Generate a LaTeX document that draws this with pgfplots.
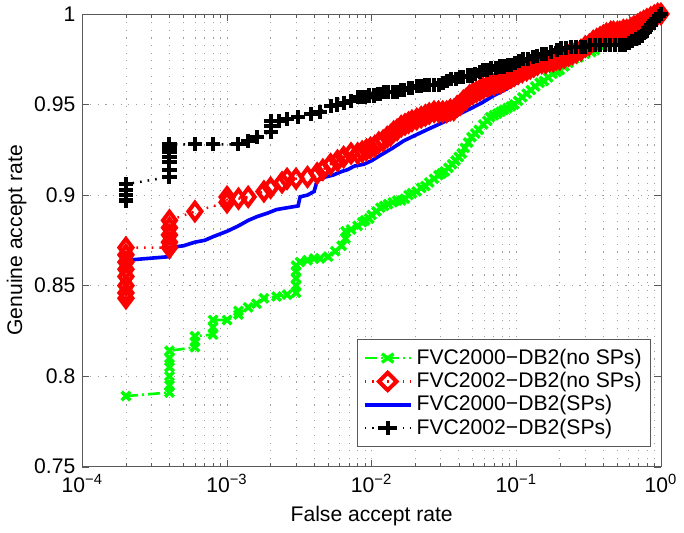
\documentclass[border=0pt]{standalone}
\usepackage{fontspec}
\setmainfont{Liberation Sans}
\usepackage{pgfplots}
\pgfplotsset{compat=1.18}

\begin{document}
\begin{tikzpicture}[font=\fontsize{10.5}{12.6}\selectfont]
\begin{axis}[
  xmode=log,
  width=287.5pt, height=225pt,
  scale only axis,
  xmin=1e-4, xmax=1,
  ymin=0.75, ymax=1,
  xtick={1e-4,1e-3,1e-2,1e-1,1},
  xticklabels={10\textsuperscript{−4},10\textsuperscript{−3},10\textsuperscript{−2},10\textsuperscript{−1},10\textsuperscript{0}},
  ytick={0.75,0.8,0.85,0.9,0.95,1},
  yticklabels={0.75,0.8,0.85,0.9,0.95,1},
  xlabel={False accept rate},
  ylabel={Genuine accept rate},
  ylabel style={yshift=-3pt},
  grid=major,
  xminorgrids=true,
  grid style={gray!75, dash pattern=on 0.6pt off 3.2pt},
  minor grid style={gray!75, dash pattern=on 0.6pt off 3.2pt},
  axis line style={black!65},
  tick style={black!65},
  tick align=inside,
  major tick length=3.5pt,
  minor tick length=2pt,
  clip=false,
  legend cell align=left,
  legend style={at={(0.983,0.044)}, anchor=south east, draw=black!65,
    font=\fontsize{10.5}{12.6}\selectfont, row sep=-1.5pt, inner sep=2.5pt},
  legend image post style={xscale=1.35},
]
% FVC2000-DB2 (no SPs)
\addplot[green, line width=1.3pt, dash pattern=on 6pt off 2pt on 1pt off 2pt,
  mark=x, mark size=3pt, mark options={solid, line width=1.7pt}] coordinates {
(2e-4,0.789) (4e-4,0.791) (4e-4,0.795) (4e-4,0.800) (4e-4,0.805) (4e-4,0.810) (4e-4,0.814)
(6e-4,0.816) (6e-4,0.819) (6e-4,0.822) (8e-4,0.823) (8e-4,0.827) (8e-4,0.831)
(1e-3,0.831) (1.2e-3,0.834) (1.2e-3,0.836) (1.4e-3,0.838) (1.6e-3,0.840) (1.8e-3,0.843)
(2.2e-3,0.844) (2.6e-3,0.845) (3.0e-3,0.846) (3.0e-3,0.850) (3.0e-3,0.854) (3.0e-3,0.858)
(3.0e-3,0.861) (3.2e-3,0.863) (3.6e-3,0.864) (4.0e-3,0.865) (4.4e-3,0.865) (5.0e-3,0.866)
(5.6e-3,0.869) (6.2e-3,0.872) (6.6e-3,0.876) (6.6e-3,0.880) (7.2e-3,0.881) (8.0e-3,0.883)
(8.6e-3,0.885) (9.0e-3,0.886) (9.6e-3,0.887) (1.0e-2,0.889) (1.08e-2,0.891) (1.15e-2,0.893)
(1.22e-2,0.894) (1.3e-2,0.895) (1.4e-2,0.896) (1.5e-2,0.897) (1.6e-2,0.897) (1.7e-2,0.898)
(1.8e-2,0.900) (1.9e-2,0.901) (2.05e-2,0.902) (2.2e-2,0.904) (2.35e-2,0.905) (2.5e-2,0.907)
(2.7e-2,0.909) (2.9e-2,0.911) (3.05e-2,0.912) (3.2e-2,0.913) (3.4e-2,0.915) (3.6e-2,0.917)
(3.8e-2,0.919) (4.0e-2,0.921) (4.2e-2,0.923) (4.4e-2,0.926) (4.65e-2,0.929) (4.9e-2,0.932)
(5.2e-2,0.934) (5.5e-2,0.936) (5.9e-2,0.939) (6.3e-2,0.941) (6.6e-2,0.943) (7.0e-2,0.944)
(7.4e-2,0.945) (7.8e-2,0.946) (8.2e-2,0.947) (8.7e-2,0.948) (9.2e-2,0.949) (9.7e-2,0.950)
(0.103,0.952) (0.11,0.954) (0.118,0.956) (0.126,0.958) (0.135,0.960) (0.145,0.962)
(0.155,0.963) (0.166,0.965) (0.178,0.967) (0.19,0.968) (0.2,0.969) (0.215,0.971)
(0.23,0.973) (0.25,0.975) (0.27,0.976) (0.3,0.978) (0.33,0.979) (0.35,0.980)
(0.4,0.982) (0.45,0.984) (0.5,0.985) (0.55,0.987) (0.6,0.988) (0.65,0.990) (0.7,0.991)
(0.75,0.993) (0.8,0.994) (0.85,0.996) (0.9,0.997) (0.95,0.999) (1.0,1.0)
};
\addlegendentry{FVC2000−DB2(no SPs)}
% FVC2002-DB2 (no SPs)
\addplot[red, line width=1.2pt, dash pattern=on 0.8pt off 3pt,
  mark=diamond, mark size=4.3pt, mark options={solid, line width=2pt, fill=white}] coordinates {
(2e-4,0.843) (2e-4,0.846) (2e-4,0.850) (2e-4,0.855) (2e-4,0.859) (2e-4,0.863) (2e-4,0.867) (2e-4,0.871)
(4e-4,0.871) (4e-4,0.874) (4e-4,0.878) (4e-4,0.882) (4e-4,0.886)
(6e-4,0.891) (1e-3,0.896) (1e-3,0.899) (1.2e-3,0.898) (1.4e-3,0.899) (1.8e-3,0.902)
(2.0e-3,0.904) (2.4e-3,0.907) (2.6e-3,0.909) (3.0e-3,0.909) (3.6e-3,0.910) (4.2e-3,0.912)
(4.6e-3,0.914) (5.2e-3,0.917) (5.8e-3,0.919) (6.4e-3,0.921) (7.2e-3,0.923) (8.0e-3,0.923)
(8.6e-3,0.924) (9.2e-3,0.925) (9.8e-3,0.926) (1.05e-2,0.927) (1.12e-2,0.929) (1.2e-2,0.930)
(1.28e-2,0.932) (1.35e-2,0.933) (1.42e-2,0.935) (1.5e-2,0.936) (1.6e-2,0.938) (1.7e-2,0.939)
(1.8e-2,0.940) (1.9e-2,0.941) (2.05e-2,0.942) (2.2e-2,0.943) (2.35e-2,0.944) (2.5e-2,0.945)
(2.7e-2,0.946) (2.9e-2,0.946) (3.1e-2,0.946) (3.3e-2,0.946) (3.5e-2,0.947) (3.7e-2,0.947)
(3.9e-2,0.949) (4.1e-2,0.950) (4.3e-2,0.952) (4.5e-2,0.953) (4.75e-2,0.955) (5.0e-2,0.956)
(5.3e-2,0.957) (5.6e-2,0.958) (5.9e-2,0.959) (6.3e-2,0.960) (6.6e-2,0.961) (7.0e-2,0.961)
(7.4e-2,0.962) (7.8e-2,0.962) (8.2e-2,0.963) (8.7e-2,0.964) (0.092,0.965) (0.097,0.966)
(0.103,0.967) (0.11,0.968) (0.118,0.969) (0.125,0.970) (0.132,0.971) (0.14,0.972)
(0.15,0.973) (0.16,0.973) (0.17,0.974) (0.18,0.974) (0.19,0.975) (0.2,0.975) (0.215,0.976)
(0.23,0.977) (0.245,0.978) (0.26,0.979) (0.28,0.980) (0.3,0.982) (0.32,0.983) (0.34,0.985)
(0.36,0.986) (0.38,0.987) (0.4,0.988) (0.42,0.989) (0.45,0.990) (0.47,0.990) (0.5,0.990)
(0.52,0.990) (0.55,0.991) (0.58,0.991) (0.62,0.992) (0.65,0.993) (0.69,0.994) (0.72,0.995)
(0.76,0.996) (0.8,0.997) (0.85,0.998) (0.9,0.999) (0.95,1.0) (1.0,1.0)
};
\addlegendentry{FVC2002−DB2(no SPs)}
% FVC2000-DB2 (SPs)
\addplot[blue, line width=1.8pt, mark=none] coordinates {
(2e-4,0.862) (2e-4,0.864) (4e-4,0.866) (4e-4,0.869) (4e-4,0.871) (5e-4,0.872) (6e-4,0.874)
(7e-4,0.875) (8e-4,0.877) (1e-3,0.880) (1.2e-3,0.883) (1.4e-3,0.886) (1.6e-3,0.888)
(1.9e-3,0.890) (2.2e-3,0.892) (2.6e-3,0.893) (3.1e-3,0.894) (3.2e-3,0.899) (3.6e-3,0.900)
(4.0e-3,0.902) (4.2e-3,0.908) (4.8e-3,0.910) (5.4e-3,0.911) (6.2e-3,0.913) (6.8e-3,0.914)
(7.6e-3,0.916) (8.8e-3,0.917) (1.0e-2,0.919) (1.15e-2,0.922) (1.4e-2,0.926) (1.67e-2,0.930)
(2.0e-2,0.933) (2.4e-2,0.936) (2.9e-2,0.939) (3.5e-2,0.942) (4.1e-2,0.945) (4.9e-2,0.948)
(5.8e-2,0.951) (7.0e-2,0.955) (8.3e-2,0.958) (0.1,0.962) (0.12,0.966) (0.14,0.969)
(0.17,0.973) (0.2,0.977) (0.24,0.980) (0.3,0.983) (0.35,0.985) (0.41,0.987) (0.5,0.989)
(0.6,0.991) (0.7,0.994) (0.85,0.997) (1.0,1.0)
};
\addlegendentry{FVC2000−DB2(SPs)}
% FVC2002-DB2 (SPs)
\addplot[black, line width=1.2pt, dash pattern=on 0.8pt off 3pt,
  mark=+, mark size=3.5pt, mark options={solid, line width=2pt}] coordinates {
(2e-4,0.897) (2e-4,0.900) (2e-4,0.903) (2e-4,0.906)
(4e-4,0.910) (4e-4,0.914) (4e-4,0.918) (4e-4,0.921) (4e-4,0.924) (4e-4,0.926) (4e-4,0.928)
(6e-4,0.928) (8e-4,0.928) (1.2e-3,0.928) (1.4e-3,0.930) (1.6e-3,0.932) (2.0e-3,0.935)
(2.0e-3,0.938) (2.0e-3,0.941) (2.3e-3,0.941) (2.6e-3,0.942) (3.1e-3,0.943) (3.8e-3,0.945)
(4.4e-3,0.946) (5.2e-3,0.949) (5.8e-3,0.950) (6.4e-3,0.951) (7.2e-3,0.952) (8.0e-3,0.954)
(8.5e-3,0.954) (9.0e-3,0.954) (9.6e-3,0.955) (1.03e-2,0.955) (1.1e-2,0.956) (1.15e-2,0.956)
(1.22e-2,0.957) (1.3e-2,0.957) (1.4e-2,0.957) (1.5e-2,0.957) (1.6e-2,0.958) (1.67e-2,0.958)
(1.8e-2,0.959) (1.9e-2,0.959) (2.05e-2,0.960) (2.2e-2,0.960) (2.35e-2,0.961) (2.5e-2,0.961)
(2.7e-2,0.961) (2.9e-2,0.961) (3.1e-2,0.962) (3.3e-2,0.963) (3.55e-2,0.964) (3.8e-2,0.964)
(4.05e-2,0.965) (4.3e-2,0.965) (4.6e-2,0.966) (4.9e-2,0.966) (5.2e-2,0.967) (5.6e-2,0.968)
(5.9e-2,0.969) (6.3e-2,0.969) (6.7e-2,0.970) (7.2e-2,0.970) (7.7e-2,0.971) (8.2e-2,0.971)
(8.7e-2,0.972) (9.2e-2,0.972) (0.098,0.973) (0.105,0.974) (0.112,0.975) (0.12,0.975)
(0.13,0.976) (0.14,0.977) (0.15,0.978) (0.16,0.978) (0.175,0.979) (0.19,0.980)
(0.205,0.981) (0.22,0.981) (0.24,0.982) (0.26,0.982) (0.28,0.982) (0.3,0.982) (0.325,0.983)
(0.35,0.983) (0.38,0.983) (0.41,0.983) (0.445,0.983) (0.48,0.983) (0.52,0.983) (0.56,0.983)
(0.6,0.984) (0.63,0.985) (0.67,0.986) (0.7,0.987) (0.74,0.988) (0.78,0.990) (0.82,0.992)
(0.86,0.994) (0.9,0.996) (0.93,0.997) (0.97,0.999) (1.0,1.0)
};
\addlegendentry{FVC2002−DB2(SPs)}
\end{axis}
\end{tikzpicture}
\end{document}
